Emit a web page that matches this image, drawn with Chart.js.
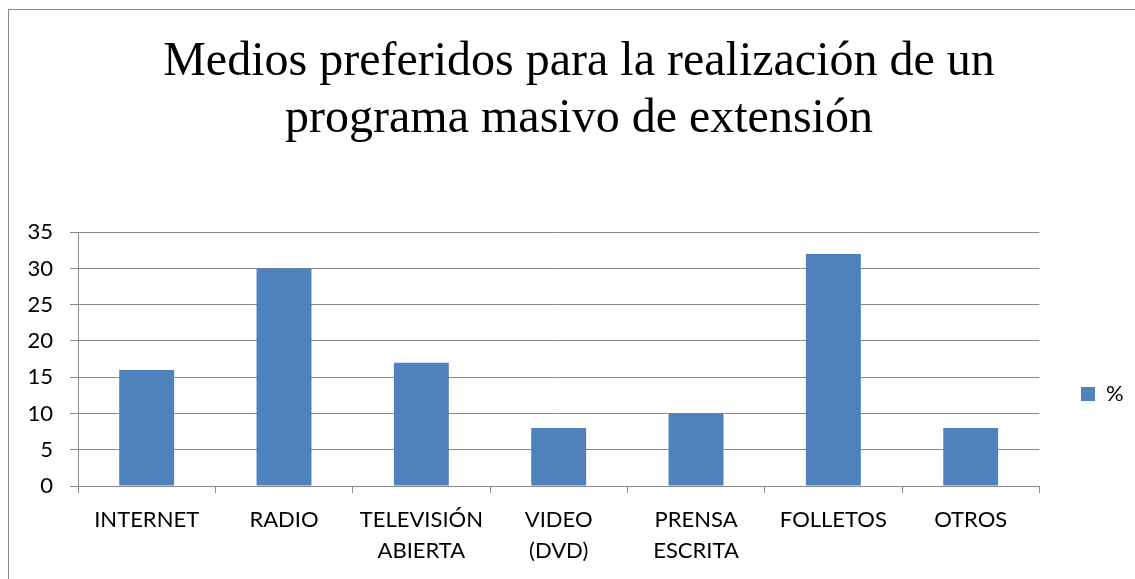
<!DOCTYPE html>
<html>
<head>
<meta charset="utf-8">
<script src="https://cdn.jsdelivr.net/npm/chart.js@4/dist/chart.umd.min.js"></script>
<style>
  html, body { margin: 0; padding: 0; background: #fff; }
  #wrap { position: relative; width: 1135px; height: 579px; overflow: hidden; }
  #frame { position: absolute; left: 8px; top: 9px; width: 1200px; height: 700px; border: 1px solid #898989; }
  #chart { position: absolute; left: 0; top: 0; }
</style>
</head>
<body>
<div id="wrap">
  <div id="frame"></div>
  <canvas id="chart" width="1135" height="579"></canvas>
</div>
<script>
// --- datos del gráfico ---
const categorias = [
    "INTERNET",
    "RADIO",
    ["TELEVISIÓN", "ABIERTA"],
    ["VIDEO", "(DVD)"],
    ["PRENSA", "ESCRITA"],
    "FOLLETOS",
    "OTROS"
];
const porcentajes = [16, 30, 17, 8, 10, 32, 8];
const titulo = ["Medios preferidos para la realización de un", "programa masivo de extensión"];
const nombreSerie = "%";

const gris = "#898989";
const fuenteEje = { family: "Lato", size: 22, lineHeight: 1.4 };

// ajusta título y leyenda a la posición del original
const ubicarCajas = {
    id: "ubicarCajas",
    afterLayout(chart) {
        const t = chart.titleBlock;
        if (t) {
            const w = t.right - t.left;
            t.left = 579 - w / 2;
            t.right = 579 + w / 2;
        }
        const lg = chart.legend;
        if (lg) {
            const w = lg.right - lg.left;
            const h = lg.bottom - lg.top;
            lg.left = 1071; lg.right = 1071 + w;
            lg.top = 394 - h / 2; lg.bottom = 394 + h / 2;
        }
    }
};

const ctx = document.getElementById("chart").getContext("2d");
new Chart(ctx, {
    type: "bar",
    data: {
        labels: categorias,
        datasets: [{
            label: nombreSerie,
            data: porcentajes,
            backgroundColor: "#4F81BD",
            barPercentage: 0.4,
            categoryPercentage: 1
        }]
    },
    plugins: [ubicarCajas],
    options: {
        responsive: false,
        animation: false,
        layout: { padding: { left: 28, right: 33, top: 0, bottom: 0 } },
        plugins: {
            title: {
                display: true,
                text: titulo,
                color: "#000",
                font: { family: "Liberation Serif", size: 48, weight: "normal", lineHeight: 1.19 },
                padding: { top: 34, bottom: 84 }
            },
            legend: {
                position: "right",
                labels: {
                    color: "#000",
                    font: fuenteEje,
                    boxWidth: 14,
                    boxHeight: 14,
                    padding: 10
                }
            },
            tooltip: { enabled: false }
        },
        scales: {
            x: {
                afterFit(scale) { scale.height = 93; },
                grid: { drawOnChartArea: false, color: gris, tickLength: 7, offset: true },
                border: { color: gris },
                ticks: { color: "#000", font: fuenteEje, padding: 12, maxRotation: 0, autoSkip: false }
            },
            y: {
                min: 0,
                max: 35,
                afterFit(scale) { scale.width = 50; },
                grid: { color: gris, tickLength: 8 },
                border: { color: gris },
                ticks: { stepSize: 5, color: "#000", font: fuenteEje, padding: 17 }
            }
        }
    }
});
</script>
</body>
</html>
